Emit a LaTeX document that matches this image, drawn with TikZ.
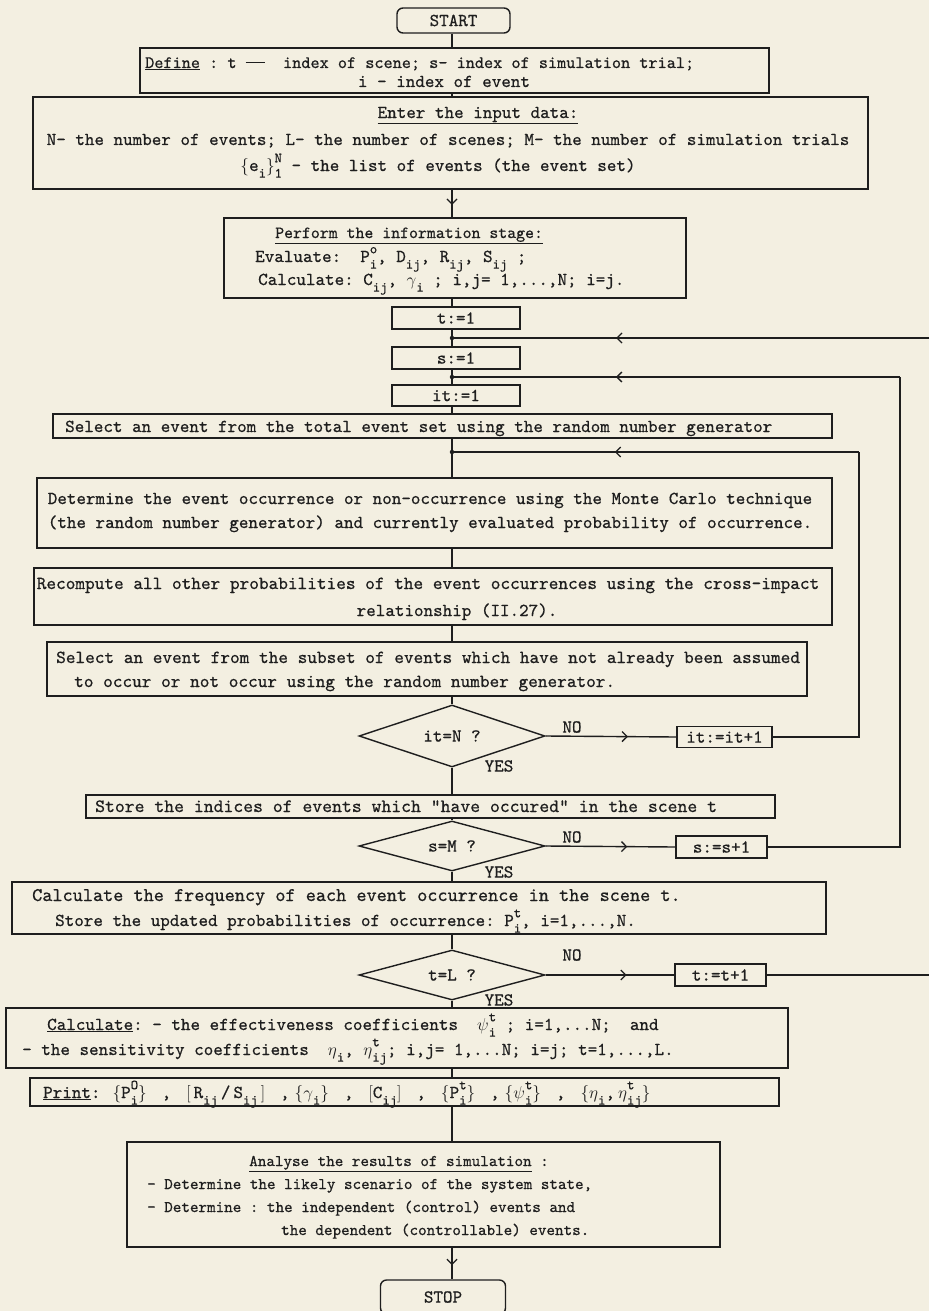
\documentclass[tikz,border=0pt]{standalone}
\usepackage{fontspec}
\setmonofont{lmmono10-regular}[Extension=.otf, FakeBold=0.6]
\usetikzlibrary{shapes.geometric,arrows.meta,decorations.markings,calc}
\definecolor{paper}{HTML}{F3EFE1}
\definecolor{ink}{HTML}{1E1E1E}
\newcommand\tf[1]{\fontsize{#1}{#1}\selectfont}
\newcommand\sbx[1]{\raisebox{-0.36em}{\tf{14}#1}}
\newcommand\spx[1]{\raisebox{0.48em}{\tf{14}#1}}
\newcommand\sbsp[2]{\rlap{\spx{#1}}\sbx{#2}}
\newcommand\longdash{\rule[0.32em]{1.1em}{0.8pt}}
\newcommand\pc{\hspace{15pt},\hspace{15pt}}
\newcommand\pcl{\hspace{15pt},\hspace{5pt}}
\begin{document}
\begin{tikzpicture}[x=1pt,y=-1pt,
  every node/.style={font=\ttfamily\tf{18.2}, text=ink, inner sep=0pt},
  box/.style={draw=ink, line width=1.4pt, rectangle},
  dia/.style={diamond, draw=ink, line width=1.4pt, shape aspect=3, inner sep=0pt},
  dot/.style={circle, fill=ink, minimum size=4.5pt, inner sep=0pt},
  line/.style={draw=ink, line width=1.4pt},
  tl/.style={anchor=base west},
  tc/.style={anchor=base},
  midarrow/.style={postaction={decorate,decoration={markings,mark=at position #1 with {\arrow{Straight Barb[length=5pt,width=10pt,line width=1.3pt]}}}}}
]
\useasboundingbox (0,0) rectangle (929,1311);
\fill[paper] (0,0) rectangle (929,1311);
\clip (0,0) rectangle (929,1311);
\coordinate (ax) at (452,0);

% START
\node[box, rounded corners=6pt, minimum width=113pt, minimum height=25pt] (start) at (453.5,20.5) {START};

% Define
\node[box, minimum width=629pt, minimum height=45pt] (def) at (454.5,70.5) {};
\node[tl, font=\ttfamily\tf{17.4}] (def1) at (145,68) {\underline{Define} : t \longdash\ \ index of scene; s- index of simulation trial;};
\node[tc] (def2) at (444,87) {i - index of event};

% Input
\node[box, minimum width=835pt, minimum height=92pt] (inp) at (450.5,143) {};
\node[tc] (inp1) at (478,118) {\underline{Enter the input data:}};
\node[tc] (inp2) at (448,145) {N- the number of events; L- the number of scenes; M- the number of simulation trials};
\node[tc] (inp3) at (438,171) {$\bigl\{$e\sbx{i}$\bigr\}$\sbsp{N}{1} - the list of events (the event set)};

% Perform
\node[box, minimum width=462pt, minimum height=80pt] (per) at (455,258) {};
\node[tl, font=\ttfamily\tf{17}] (per1) at (275,238) {\underline{Perform the information stage:}};
\node[tl] (per2) at (255,262) {Evaluate:\ \ P\sbsp{o}{i},\ D\sbx{ij},\ R\sbx{ij},\ S\sbx{ij} ;};
\node[tl] (per3) at (258,285) {Calculate: C\sbx{ij}, $\gamma$\sbx{i} ; i,j= 1,...,N; i=j.};

% counters
\node[box, minimum width=128pt, minimum height=22pt] (t1) at (456,318) {t:=1};
\node[dot] (tj) at (452,338) {};
\node[box, minimum width=128pt, minimum height=22pt] (s1) at (456,358) {s:=1};
\node[dot] (sj) at (452,377) {};
\node[box, minimum width=128pt, minimum height=21pt] (it1) at (456,395.5) {it:=1};

% Select event
\node[box, minimum width=779pt, minimum height=24pt] (sel) at (442.5,426) {};
\node[tl] (selt) at (65,432) {Select an event from the total event set using the random number generator};
\node[dot] (itj) at (452,452) {};

% Determine
\node[box, minimum width=795pt, minimum height=70pt] (det) at (434.5,513) {};
\node[tc] (det1) at (430,504) {Determine the event occurrence or non-occurrence using the Monte Carlo technique};
\node[tc] (det2) at (430,528) {(the random number generator) and currently evaluated probability of occurrence.};

% Recompute
\node[box, minimum width=798pt, minimum height=57pt] (rec) at (433,596.5) {};
\node[tc, font=\ttfamily\tf{18.4}] (rec1) at (428,589) {Recompute all other probabilities of the event occurrences using the cross-impact};
\node[tc] (rec2) at (457,616) {relationship (II.27).};

% Select subset
\node[box, minimum width=760pt, minimum height=54pt] (sub) at (427,669) {};
\node[tl, font=\ttfamily\tf{18.4}] (sub1) at (56,663) {Select an event from the subset of events which have not already been assumed};
\node[tl, font=\ttfamily\tf{18.4}] (sub2) at (74,687) {to occur or not occur using the random number generator.};

% it=N
\node[dia, minimum width=186pt, minimum height=62pt] (dN) at (452,736) {it=N ?};
\node (noN) at (572,727) {NO};
\node (yesN) at (499,766) {YES};
\node[box, minimum width=95pt, minimum height=21pt] (itinc) at (724.5,737) {it:=it+1};
\coordinate (itR) at (859,452);

% Store
\node[box, minimum width=689pt, minimum height=23pt] (store) at (430.5,806.5) {};
\node[tl, font=\ttfamily\tf{18.8}] (storet) at (95,812) {Store the indices of events which "have occured" in the scene t};

% s=M
\node[dia, minimum width=186pt, minimum height=50pt] (dM) at (452,846) {s=M ?};
\node (noM) at (572,837) {NO};
\node (yesM) at (499,872) {YES};
\node[box, minimum width=91pt, minimum height=22pt] (sinc) at (721.5,847) {s:=s+1};
\coordinate (sR) at (900,377);

% frequency
\node[box, minimum width=814pt, minimum height=52pt] (freq) at (419,908) {};
\node[tl, font=\ttfamily\tf{19.3}] (freq1) at (32,901) {Calculate the frequency of each event occurrence in the scene t.};
\node[tl] (freq2) at (55,926) {Store the updated probabilities of occurrence: P\sbsp{t}{i}, i=1,...,N.};

% t=L
\node[dia, minimum width=186pt, minimum height=50pt] (dL) at (452,975) {t=L ?};
\node (noL) at (572,955) {NO};
\node (yesL) at (499,1000) {YES};
\node[box, minimum width=91pt, minimum height=22pt] (tinc) at (720.5,975) {t:=t+1};
\coordinate (tOut) at (929,975);
\coordinate (tR) at (929,338);

% Calculate
\node[box, minimum width=782pt, minimum height=60pt] (calc) at (397,1038) {};
\node[tl] (calc1) at (47,1030) {\underline{Calculate}: - the effectiveness coefficients\ \ $\psi$\sbsp{t}{i} ; i=1,...N;\ \ and};
\node[tl] (calc2) at (22,1055) {- the sensitivity coefficients\ \ $\eta$\sbx{i}, $\eta$\sbsp{t}{ij}; i,j= 1,...N; i=j; t=1,...,L.};

% Print
\node[box, minimum width=749pt, minimum height=28pt] (prn) at (404.5,1092) {};
\node[tl] (prnt) at (43,1098) {\underline{Print}:\hspace{12pt}$\bigl\{$P\sbsp{O}{i}$\bigr\}$\pc
$\bigl[$\,R\sbx{ij}\,/\,S\sbx{ij}\,$\bigr]$\pcl
$\bigl\{\gamma$\sbx{i}$\bigr\}$\pc
$\bigl[$C\sbx{ij}$\bigr]$\pc
$\bigl\{$P\sbsp{t}{i}$\bigr\}$\pcl
$\bigl\{\psi$\sbsp{t}{i}$\bigr\}$\pc
$\bigl\{\eta$\sbx{i},\,$\eta$\sbsp{t}{ij}$\bigr\}$};

% Analyse
\node[box, minimum width=593pt, minimum height=105pt] (ana) at (423.5,1194.5) {};
\node[tc, font=\ttfamily\tf{16.3}] (ana1) at (399,1166) {\underline{Analyse the results of simulation} :};
\node[tl, font=\ttfamily\tf{16.3}] (ana2) at (147,1189) {- Determine the likely scenario of the system state,};
\node[tl, font=\ttfamily\tf{16.3}] (ana3) at (147,1212) {- Determine : the independent (control) events and};
\node[tl, font=\ttfamily\tf{16.3}] (ana4) at (281,1235) {the dependent (controllable) events.};

% STOP
\node[box, rounded corners=6pt, minimum width=125pt, minimum height=34pt] (stop) at (443,1297) {STOP};

% main flow
\draw[line] (ax |- start.south) -- (ax |- def.north);
\draw[line] (ax |- def.south) -- (ax |- inp.north);
\draw[line, midarrow=0.55] (ax |- inp.south) -- (ax |- per.north);
\draw[line] (ax |- per.south) -- (ax |- t1.north);
\draw[line] (ax |- t1.south) -- (tj.center) -- (ax |- s1.north);
\draw[line] (ax |- s1.south) -- (sj.center) -- (ax |- it1.north);
\draw[line] (ax |- it1.south) -- (ax |- sel.north);
\draw[line] (ax |- sel.south) -- (itj.center) -- (ax |- det.north);
\draw[line] (ax |- det.south) -- (ax |- rec.north);
\draw[line] (ax |- rec.south) -- (ax |- sub.north);
\draw[line] (ax |- sub.south) -- (dN.north);
\draw[line] (dN.south) -- (ax |- store.north);
\draw[line] (ax |- store.south) -- (dM.north);
\draw[line] (dM.south) -- (ax |- freq.north);
\draw[line] (ax |- freq.south) -- (dL.north);
\draw[line] (dL.south) -- (ax |- calc.north);
\draw[line] (ax |- calc.south) -- (ax |- prn.north);
\draw[line] (ax |- prn.south) -- (ax |- ana.north);
\draw[line, midarrow=0.55] (ax |- ana.south) -- (ax |- stop.north);

% NO branches
\draw[line, midarrow=0.63] (dN.east) -- (itinc.west);
\draw[line, midarrow=0.63] (dM.east) -- (sinc.west);
\draw[line, midarrow=0.63] (dL.east) -- (tinc.west);

% loops
\draw[line] (itinc.east) -| (itR);
\draw[line, midarrow=0.6] (itR) -- (itj.center);
\draw[line] (sinc.east) -| (sR);
\draw[line, midarrow=0.634] (sR) -- (sj.center);
\draw[line] (tinc.east) -- (tOut);
\draw[line, midarrow=0.656] (tR) -- (tj.center);
\end{tikzpicture}
\end{document}
